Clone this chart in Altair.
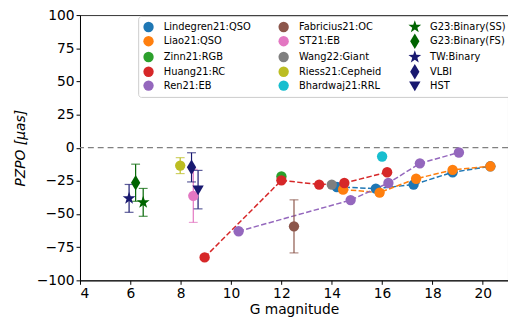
import altair as alt
import pandas as pd

# ---- data ----
series_names = [
    "Lindegren21:QSO", "Liao21:QSO", "Zinn21:RGB", "Huang21:RC", "Ren21:EB",
    "Fabricius21:OC", "ST21:EB", "Wang22:Giant", "Riess21:Cepheid", "Bhardwaj21:RRL",
    "G23:Binary(SS)", "G23:Binary(FS)", "TW:Binary", "VLBI", "HST",
]
series_colors = [
    "#1f77b4", "#ff7f0e", "#2ca02c", "#d62728", "#9467bd",
    "#8c564b", "#e377c2", "#7f7f7f", "#bcbd22", "#17becf",
    "#006400", "#006400", "#191970", "#191970", "#191970",
]
# marker outlines (unit-box SVG paths: Vega has no built-in star)
star_path = ("M0,-1.3L0.306,-0.421L1.236,-0.402L0.494,0.161L0.764,1.052L0,0.52"
             "L-0.764,1.052L-0.494,0.161L-1.236,-0.402L-0.306,-0.421Z")
thin_diamond_path = "M0,-1.5L0.9,0L0,1.5L-0.9,0Z"
triangle_down_path = "M-1.1,-0.8L1.1,-0.8L0,1.1Z"
series_shapes = [
    "circle", "circle", "circle", "circle", "circle",
    "circle", "circle", "circle", "circle", "circle",
    star_path, thin_diamond_path, star_path, thin_diamond_path, triangle_down_path,
]
dashed_series = ["Lindegren21:QSO", "Liao21:QSO", "Huang21:RC", "Ren21:EB"]

lindegren_g = [14.2, 15.75, 17.25, 18.8, 20.3]
lindegren_z = [-29.6, -30.8, -27.8, -18.5, -14.0]
lindegren_e = [0, 0, 0, 0, 0]

liao_g = [14.45, 15.9, 17.35, 18.8, 20.3]
liao_z = [-31.5, -33.8, -23.4, -16.7, -14.0]
liao_e = [2, 2, 0, 0, 0]

zinn_g = [12.0]
zinn_z = [-21.7]
zinn_e = [0]

huang_g = [8.95, 12.0, 13.5, 14.5, 16.2]
huang_z = [-82.7, -24.6, -27.8, -26.6, -18.5]
huang_e = [0, 0, 0, 0, 0]

ren_g = [10.3, 14.75, 16.25, 17.5, 19.05]
ren_z = [-63.0, -39.5, -26.6, -11.8, -3.6]
ren_e = [0, 0, 0, 0, 0]

fabricius_g = [12.5]
fabricius_z = [-59.3]
fabricius_e = [20.0]

st21_g = [8.5]
st21_z = [-36.3]
st21_e = [20.0]

wang_g = [14.0]
wang_z = [-27.8]
wang_e = [0]

riess_g = [7.98]
riess_z = [-13.5]
riess_e = [6.0]

bhardwaj_g = [16.0]
bhardwaj_z = [-6.6]
bhardwaj_e = [0]

g23ss_g = [6.51]
g23ss_z = [-41.2]
g23ss_e = [10.5]

g23fs_g = [6.21]
g23fs_z = [-26.4]
g23fs_e = [14.0]

tw_g = [5.95]
tw_z = [-38.2]
tw_e = [10.5]

vlbi_g = [8.43]
vlbi_z = [-14.8]
vlbi_e = [11.0]

hst_g = [8.69]
hst_z = [-31.6]
hst_e = [14.5]

all_data = [
    (lindegren_g, lindegren_z, lindegren_e), (liao_g, liao_z, liao_e),
    (zinn_g, zinn_z, zinn_e), (huang_g, huang_z, huang_e), (ren_g, ren_z, ren_e),
    (fabricius_g, fabricius_z, fabricius_e), (st21_g, st21_z, st21_e),
    (wang_g, wang_z, wang_e), (riess_g, riess_z, riess_e),
    (bhardwaj_g, bhardwaj_z, bhardwaj_e), (g23ss_g, g23ss_z, g23ss_e),
    (g23fs_g, g23fs_z, g23fs_e), (tw_g, tw_z, tw_e), (vlbi_g, vlbi_z, vlbi_e),
    (hst_g, hst_z, hst_e),
]

x_ticks = [4, 6, 8, 10, 12, 14, 16, 18, 20]
y_ticks = [-100, -75, -50, -25, 0, 25, 50, 75, 100]

rows = []
for i, (name, (gs, zs, es)) in enumerate(zip(series_names, all_data)):
    for j, (g, z, e) in enumerate(zip(gs, zs, es)):
        rows.append({"series": name, "g": g, "z": z, "lo": z - e, "hi": z + e, "err": e})
df = pd.DataFrame(rows)
df_lines = df[df["series"].isin(dashed_series)].reset_index(drop=True)
df_err = df[df["err"] > 0].reset_index(drop=True)
df_zero = pd.DataFrame({"z": [0.0]})

# Vega fills legend columns top-to-bottom, so the natural order gives the layout
color_scale = alt.Scale(domain=series_names, range=series_colors)
shape_scale = alt.Scale(domain=series_names, range=series_shapes)

xs = alt.Scale(domain=[4, 21], nice=False)
ys = alt.Scale(domain=[-100, 100], nice=False)
x_axis = alt.Axis(values=x_ticks, format="d")
y_axis = alt.Axis(values=y_ticks, format="d", titleFontStyle="italic")


def xe(field):
    return alt.X(field, type="quantitative", scale=xs, axis=x_axis, title="G magnitude")


def ye(field):
    return alt.Y(field, type="quantitative", scale=ys, axis=y_axis, title="PZPO   [μas]")


def legend():
    return alt.Legend(columns=3, orient="none", legendX=59, legendY=1,
                      symbolType="circle")


def col():
    return alt.Color("series", type="nominal", scale=color_scale, title=None,
                     legend=legend())


shp_leg = alt.Shape("series", type="nominal", scale=shape_scale, title=None,
                    legend=legend())

zero = alt.Chart(df_zero).mark_rule(
    color="#808080", strokeDash=[6, 4], strokeWidth=1.3
).encode(y=ye("z"))

lines = alt.Chart(df_lines).mark_line(strokeDash=[5.5, 2.4], strokeWidth=1.5).encode(
    x=xe("g"), y=ye("z"), color=col(),
)

err_rule = alt.Chart(df_err).mark_rule(strokeWidth=1.2).encode(
    x=xe("g"), y=ye("lo"), y2=alt.Y2("hi"), color=col(),
)
cap_lo = alt.Chart(df_err).mark_tick(orient="horizontal", size=9, thickness=1.2).encode(
    x=xe("g"), y=ye("lo"), color=col(),
)
cap_hi = alt.Chart(df_err).mark_tick(orient="horizontal", size=9, thickness=1.2).encode(
    x=xe("g"), y=ye("hi"), color=col(),
)

points = alt.Chart(df).mark_point(filled=True, opacity=1, size=110, strokeWidth=0).encode(
    x=xe("g"), y=ye("z"), color=col(), shape=shp_leg,
)

chart = alt.layer(zero, lines, err_rule, cap_lo, cap_hi, points).properties(
    width=434, height=269,
    autosize=alt.AutoSizeParams(type="none"),
    padding={"left": 73, "top": 5, "right": 0, "bottom": 36},
).configure_view(
    stroke="#333", strokeWidth=1
).configure_axis(
    grid=False, labelFont="DejaVu Sans", titleFont="DejaVu Sans",
    labelFontSize=14, titleFontSize=14, labelColor="black", titleColor="black",
    titleFontWeight="normal", domainColor="black", tickColor="black",
    tickSize=4, labelPadding=2,
).configure_axisY(
    titlePadding=9,
).configure_axisX(
    titlePadding=3,
).configure_legend(
    labelFont="DejaVu Sans", labelFontSize=10, labelColor="black",
    fillColor="white", strokeColor="#cccccc", cornerRadius=3, padding=5,
    symbolSize=110, rowPadding=0, columnPadding=27, labelOffset=10,
    symbolStrokeWidth=0, symbolOpacity=1,
)

chart.save("out.html", embed_options={"renderer": "svg", "actions": False})
